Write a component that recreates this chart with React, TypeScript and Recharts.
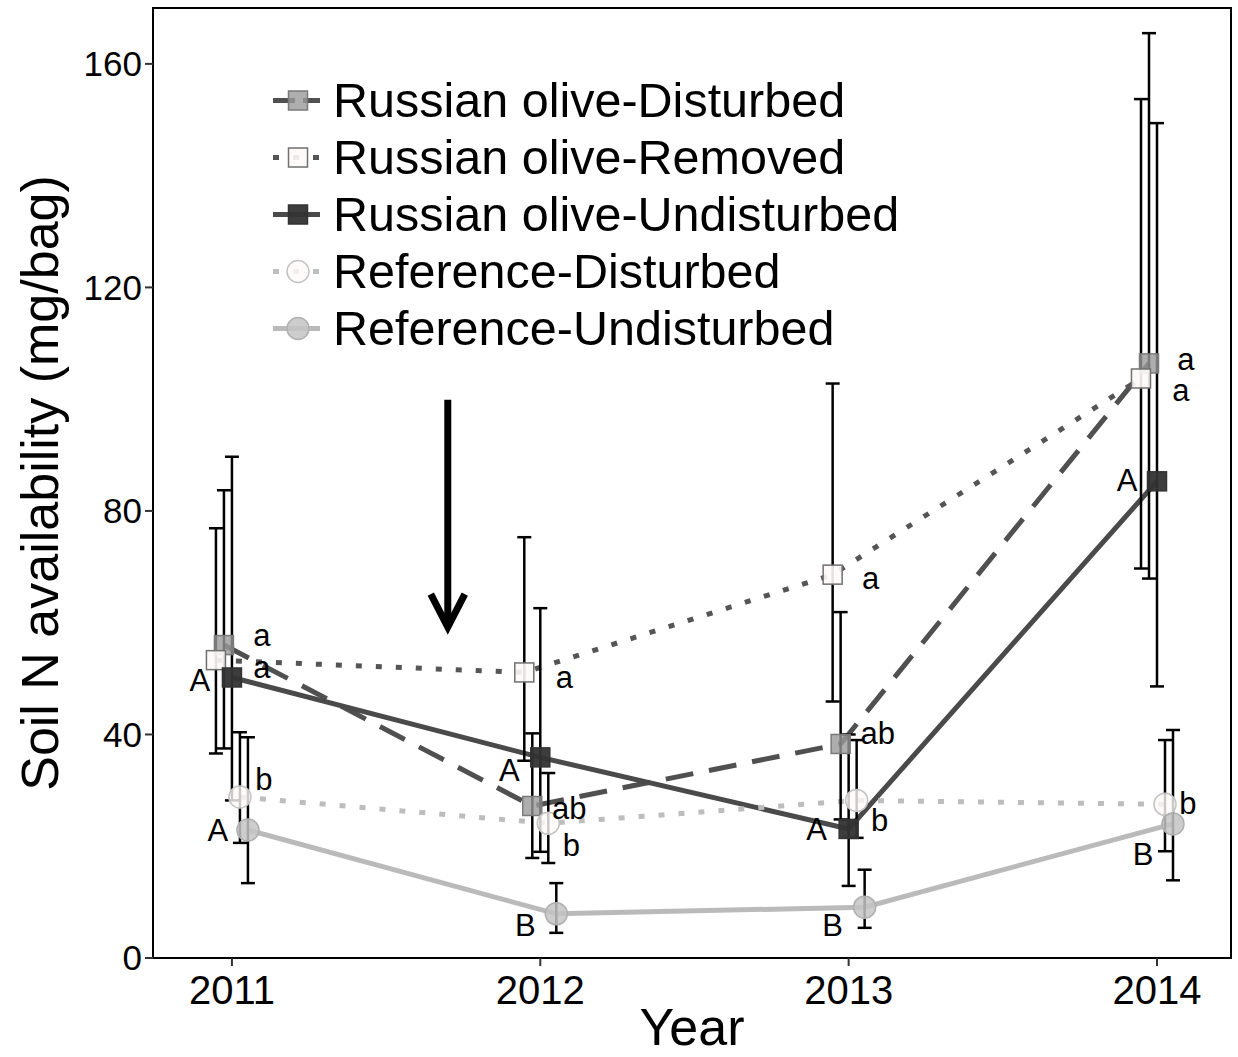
import { ComposedChart, Line, Scatter, XAxis, YAxis, ErrorBar, ReferenceArea, ReferenceLine } from 'recharts';

const YEARS = [2011, 2012, 2013, 2014];
const Y_TICKS = [0, 40, 80, 120, 160];

// Soil N availability (mg/bag): means and error bar ends, 2011-2014
const roDisturbedMean = [56.0, 27.2, 38.3, 106.4];
const roDisturbedLow = [37.5, 17.9, 24.8, 67.9];
const roDisturbedHigh = [83.7, 40.2, 61.9, 165.5];
const roDisturbedLetters = ['a', 'ab', 'ab', 'a'];

const roRemovedMean = [53.3, 51.1, 68.6, 103.7];
const roRemovedLow = [36.6, 35.3, 45.9, 69.7];
const roRemovedHigh = [76.9, 75.3, 102.8, 153.7];
const roRemovedLetters = ['a', 'a', 'a', 'a'];

const roUndisturbedMean = [50.2, 35.9, 23.1, 85.3];
const roUndisturbedLow = [28.2, 19.0, 12.9, 48.6];
const roUndisturbedHigh = [89.7, 62.6, 40.0, 149.4];
const roUndisturbedLetters = ['A', 'A', 'A', 'A'];

const refDisturbedMean = [28.8, 24.1, 28.2, 27.5];
const refDisturbedLow = [20.6, 17.0, 21.5, 19.1];
const refDisturbedHigh = [40.4, 33.1, 39.0, 39.0];
const refDisturbedLetters = ['b', 'b', 'b', 'b'];

const refUndisturbedMean = [22.9, 7.9, 9.1, 24.0];
const refUndisturbedLow = [13.4, 4.5, 5.4, 13.9];
const refUndisturbedHigh = [39.5, 13.4, 15.8, 40.8];
const refUndisturbedLetters = ['A', 'B', 'B', 'B'];

const X_DOMAIN: [number, number] = [2010.744, 2014.24];
const Y_DOMAIN: [number, number] = [0, 170];
const PX_PER_YEAR = 308.4;

type Series = {
  name: string;
  mean: number[];
  low: number[];
  high: number[];
  letters: string[];
  dodge: number; // px
  stroke: string;
  dash?: string;
  legendDash?: string;
  marker: 'square' | 'circle';
  fill: string;
  fillOpacity: number;
  markerStroke: string;
  labelDx: number[];
  labelDy: number[];
};

const SERIES: Series[] = [
  {
    name: 'Russian olive-Disturbed', mean: roDisturbedMean, low: roDisturbedLow, high: roDisturbedHigh,
    letters: roDisturbedLetters, dodge: -8, stroke: '#505050', dash: '28 16', legendDash: '22 8',
    marker: 'square', fill: '#9a9a9a', fillOpacity: 0.8, markerStroke: '#7a7a7a',
    labelDx: [38, 37, 37, 37], labelDy: [-10, 2, -10, -4],
  },
  {
    name: 'Russian olive-Removed', mean: roRemovedMean, low: roRemovedLow, high: roRemovedHigh,
    letters: roRemovedLetters, dodge: -16, stroke: '#555555', dash: '6 14', legendDash: '6 14',
    marker: 'square', fill: '#fffafa', fillOpacity: 0.9, markerStroke: '#707070',
    labelDx: [46, 40, 38, 40], labelDy: [7, 5, 4, 12],
  },
  {
    name: 'Russian olive-Undisturbed', mean: roUndisturbedMean, low: roUndisturbedLow, high: roUndisturbedHigh,
    letters: roUndisturbedLetters, dodge: 0, stroke: '#4a4a4a', marker: 'square',
    fill: '#333333', fillOpacity: 0.95, markerStroke: '#333333',
    labelDx: [-32, -31, -32, -30], labelDy: [3, 13, 1, -1],
  },
  {
    name: 'Reference-Disturbed', mean: refDisturbedMean, low: refDisturbedLow, high: refDisturbedHigh,
    letters: refDisturbedLetters, dodge: 8, stroke: '#bdbdbd', dash: '6 14', legendDash: '6 14',
    marker: 'circle', fill: '#fffafa', fillOpacity: 0.8, markerStroke: '#c4c4c4',
    labelDx: [24, 23, 23, 23], labelDy: [-18, 22, 20, -1],
  },
  {
    name: 'Reference-Undisturbed', mean: refUndisturbedMean, low: refUndisturbedLow, high: refUndisturbedHigh,
    letters: refUndisturbedLetters, dodge: 16, stroke: '#bababa', marker: 'circle',
    fill: '#c4c4c4', fillOpacity: 0.85, markerStroke: '#b0b0b0',
    labelDx: [-30, -31, -32, -30], labelDy: [0, 12, 18, 31],
  },
];

const pointsFor = (s: Series) =>
  YEARS.map((yr, i) => ({
    x: yr + s.dodge / PX_PER_YEAR,
    y: s.mean[i],
    err: [s.mean[i] - s.low[i], s.high[i] - s.mean[i]],
    i,
  }));

const Marker = ({ s, cx, cy, size = 19 }: { s: Series; cx: number; cy: number; size?: number }) =>
  s.marker === 'square' ? (
    <rect x={cx - size / 2} y={cy - size / 2} width={size} height={size}
      fill={s.fill} fillOpacity={s.fillOpacity} stroke={s.markerStroke} strokeWidth={1.5} />
  ) : (
    <circle cx={cx} cy={cy} r={size / 2 + 1.5}
      fill={s.fill} fillOpacity={s.fillOpacity} stroke={s.markerStroke} strokeWidth={1.5} />
  );

// open-headed arrow drawn on the ReferenceLine segment
const Arrow = (p: any) => {
  const { x1, y1, x2, y2 } = p;
  return (
    <g>
      <line x1={x1} y1={y1} x2={x2} y2={y2 - 4} stroke="#000" strokeWidth={7} />
      <polyline points={`${x2 - 17},${y2 - 33} ${x2},${y2} ${x2 + 17},${y2 - 33}`}
        fill="none" stroke="#000" strokeWidth={7} />
    </g>
  );
};

const Legend = () => (
  <div style={{ position: 'absolute', left: 270, top: 72 }}>
    {SERIES.map((s) => (
      <div key={s.name} style={{ display: 'flex', alignItems: 'center', height: 57 }}>
        <svg width={60} height={57}>
          <line x1={3} y1={28.5} x2={50} y2={28.5} stroke={s.stroke} strokeWidth={5}
            strokeDasharray={s.legendDash} />
          <Marker s={s} cx={28} cy={28.5} size={19} />
        </svg>
        <span style={{ fontSize: 48.5, marginLeft: 3, lineHeight: '57px', whiteSpace: 'nowrap' }}>{s.name}</span>
      </div>
    ))}
  </div>
);

export default function App() {
  return (
    <div style={{ position: 'absolute', left: 0, top: 0, width: 1238, height: 1057, background: '#fff',
      fontFamily: "'Liberation Sans', Arial, Helvetica, sans-serif" }}>
      <ComposedChart width={1238} height={1057} margin={{ top: 8, right: 7, bottom: 0, left: 0 }}>
        <XAxis type="number" dataKey="x" domain={X_DOMAIN} ticks={YEARS} allowDataOverflow
          height={99} axisLine={false} tickSize={8} tickMargin={10}
          tickLine={{ stroke: '#333', strokeWidth: 2 }}
          tick={{ fontSize: 40, fill: '#000' }}
          label={{
            content: () => (
              <text x={692} y={1045} textAnchor="middle" fontSize={52} fill="#000">Year</text>
            ),
          }} />
        <YAxis type="number" dataKey="y" domain={Y_DOMAIN} ticks={Y_TICKS} allowDataOverflow
          width={153} axisLine={false} tickSize={8} tickMargin={3}
          tickLine={{ stroke: '#333', strokeWidth: 2 }}
          tick={{ fontSize: 35, fill: '#000' }}
          label={{
            content: () => (
              <text x={40} y={483} transform="rotate(-90 40 483)" textAnchor="middle"
                dominantBaseline="central" fontSize={52} fill="#000">
                Soil N availability (mg/bag)
              </text>
            ),
          }} />

        {SERIES.map((s) => (
          <Line key={`line-${s.name}`} data={pointsFor(s)} dataKey="y" type="linear"
            stroke={s.stroke} strokeWidth={5} strokeDasharray={s.dash}
            dot={false} activeDot={false} isAnimationActive={false} />
        ))}

        {SERIES.map((s) => (
          <Scatter key={`pts-${s.name}`} data={pointsFor(s)} dataKey="y" isAnimationActive={false}
            shape={(p: any) => <Marker s={s} cx={p.cx} cy={p.cy} />} />
        ))}

        {SERIES.map((s) => (
          <Scatter key={`err-${s.name}`} data={pointsFor(s)} dataKey="y" isAnimationActive={false}
            shape={(p: any) => (
              <text x={p.cx + s.labelDx[p.payload.i]} y={p.cy + s.labelDy[p.payload.i]}
                textAnchor="middle" dominantBaseline="central" fontSize={31} fill="#000">
                {s.letters[p.payload.i]}
              </text>
            )}>
            <ErrorBar dataKey="err" direction="y" width={7} stroke="#000" strokeWidth={2.5} />
          </Scatter>
        ))}

        <ReferenceLine segment={[{ x: 2011.7, y: 99.9 }, { x: 2011.7, y: 59.2 }]} shape={Arrow} />
        <ReferenceArea x1={X_DOMAIN[0]} x2={X_DOMAIN[1]} y1={Y_DOMAIN[0]} y2={Y_DOMAIN[1]}
          fill="none" stroke="#000" strokeWidth={2} fillOpacity={0} />
      </ComposedChart>
      <Legend />
    </div>
  );
}
